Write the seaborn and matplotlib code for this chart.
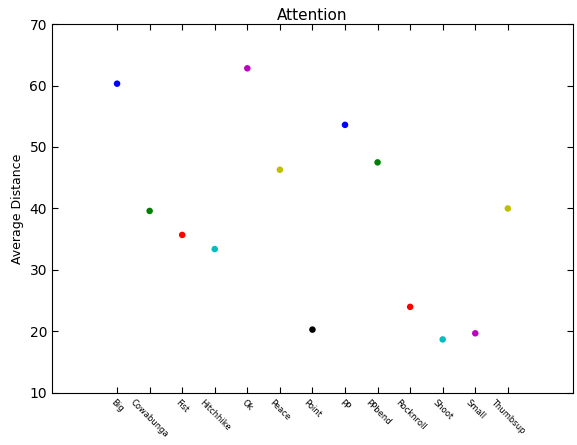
import pandas as pd
import matplotlib
matplotlib.use("Agg")
import matplotlib.pyplot as plt
import seaborn as sns

# data
gestures = ["Big", "Cowabunga", "Fist", "Hitchhike", "Ok", "Peace", "Point",
            "PP", "PPbend", "Rocknroll", "Shoot", "Small", "Thumbsup"]
positions = list(range(1, 14))
avg_distance = [60.3, 39.6, 35.7, 33.4, 62.8, 46.3, 20.3,
                53.6, 47.5, 24.0, 18.7, 19.7, 40.0]
point_colors = ["b", "g", "r", "c", "m", "y", "k",
                "b", "g", "r", "c", "m", "y"]

df = pd.DataFrame({"gesture": gestures, "pos": positions, "dist": avg_distance})

sns.set_style("ticks", {"xtick.direction": "in", "ytick.direction": "in",
                        "axes.edgecolor": "black", "text.color": "black",
                        "axes.labelcolor": "black", "xtick.color": "black",
                        "ytick.color": "black"})
plt.rcParams["font.family"] = ["DejaVu Sans"]

fig = plt.figure(figsize=(5.77, 4.45), dpi=100)
ax = fig.add_axes([0.09, 0.117, 0.903, 0.829])

sns.scatterplot(data=df, x="pos", y="dist", hue="gesture", palette=point_colors,
                s=22, linewidth=0, legend=False, ax=ax)

ax.set_xlim(-1, 15)
ax.set_ylim(10, 70)
ax.set_xticks(positions)
ax.set_xticklabels(gestures, rotation=-45, fontsize=6)
ax.tick_params(axis="y", labelsize=10)
ax.tick_params(top=True, right=True, length=4, width=0.8)
for sp in ax.spines.values():
    sp.set_visible(True)
    sp.set_linewidth(0.8)

ax.set_title("Attention", fontsize=11, pad=3, color="black")
ax.set_xlabel("Gesture", fontsize=10, labelpad=8)
ax.set_ylabel("Average Distance", fontsize=9)

fig.savefig("out.png", dpi=100)
